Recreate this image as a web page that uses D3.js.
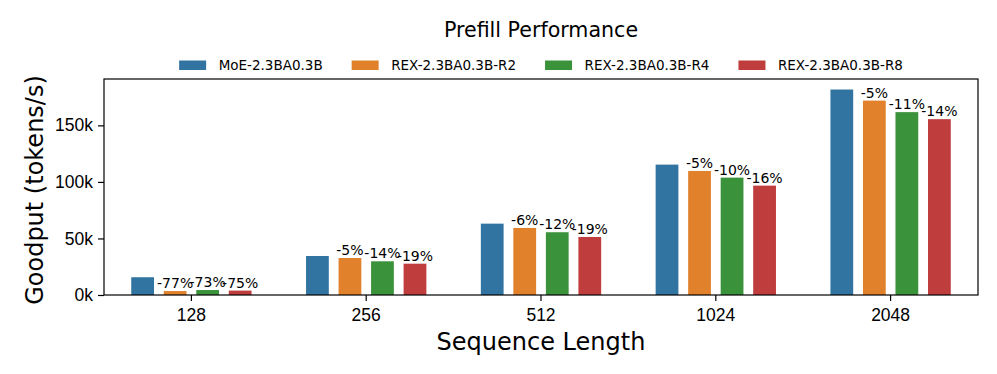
<!DOCTYPE html>
<meta charset="utf-8">
<head>
  <script src="https://d3js.org/d3.v7.min.js"></script>
  <style>
    body { margin: 0; background: #fff; }
    svg { display: block; font-family: "DejaVu Sans", sans-serif; }
  </style>
</head>
<body>
<div id="my_dataviz"></div>
<script>

// data (goodput in tokens/s)
var categories = ["128", "256", "512", "1024", "2048"];
var seriesNames = ["MoE-2.3BA0.3B", "REX-2.3BA0.3B-R2", "REX-2.3BA0.3B-R4", "REX-2.3BA0.3B-R8"];
var moeValues = [15700, 34500, 63100, 115300, 181700];
var r2Values = [3500, 32700, 59300, 109700, 171900];
var r4Values = [4400, 29800, 55500, 103800, 161700];
var r8Values = [3900, 27700, 51300, 96700, 155500];
var r2Labels = ["-77%", "-5%", "-6%", "-5%", "-5%"];
var r4Labels = ["-73%", "-14%", "-12%", "-10%", "-11%"];
var r8Labels = ["-75%", "-19%", "-19%", "-16%", "-14%"];
var yTicks = [0, 50000, 100000, 150000];
var colors = ["#3274a1", "#e1812c", "#3a923a", "#c03d3e"];

var allValues = [moeValues, r2Values, r4Values, r8Values];
var allLabels = [null, r2Labels, r4Labels, r8Labels];

var margin = { top: 79, right: 19, bottom: 79, left: 104 },
  W = 997, H = 374,
  width = W - margin.left - margin.right,
  height = H - margin.top - margin.bottom;

var svgRoot = d3.select("#my_dataviz")
  .append("svg")
  .attr("width", W)
  .attr("height", H);

var svg = svgRoot.append("g")
  .attr("transform", "translate(" + margin.left + "," + margin.top + ")");

// scales
var x0 = d3.scaleBand()
  .domain(categories)
  .range([0, width])
  .paddingInner(0.2)
  .paddingOuter(0.1);

var x1 = d3.scaleBand()
  .domain(seriesNames)
  .range([0, x0.bandwidth()])
  .padding(0.3);

var y = d3.scaleLinear()
  .domain([0, 191000])
  .range([height, 0]);

// build rows for the bars
var rows = [];
categories.forEach(function (c, i) {
  seriesNames.forEach(function (s, j) {
    rows.push({ cat: c, series: s, idx: j, value: allValues[j][i], label: allLabels[j] ? allLabels[j][i] : null });
  });
});

// bars
svg.selectAll("rect.bar")
  .data(rows)
  .enter()
  .append("rect")
  .attr("class", "bar")
  .attr("x", function (d) { return x0(d.cat) + x1(d.series); })
  .attr("y", function (d) { return y(d.value); })
  .attr("width", x1.bandwidth())
  .attr("height", function (d) { return height - y(d.value); })
  .attr("fill", function (d) { return colors[d.idx]; });

// percentage labels
svg.selectAll("text.pct")
  .data(rows.filter(function (d) { return d.label; }))
  .enter()
  .append("text")
  .attr("class", "pct")
  .attr("x", function (d) { return x0(d.cat) + x1(d.series) + x1.bandwidth() / 2; })
  .attr("y", function (d) { return y(d.value) - 3; })
  .attr("text-anchor", "middle")
  .style("font-size", "14px")
  .text(function (d) { return d.label; });

// axes
var xAxis = svg.append("g")
  .attr("transform", "translate(0," + height + ")")
  .call(d3.axisBottom(x0).tickSize(6).tickPadding(7.5).tickSizeOuter(0));
xAxis.selectAll("text").style("font-size", "17.5px").attr("fill", "#000");

var yAxis = svg.append("g")
  .call(d3.axisLeft(y).tickValues(yTicks).tickSize(6).tickPadding(5).tickSizeOuter(0)
    .tickFormat(function (d) { return (d / 1000) + "k"; }));
yAxis.selectAll("text").style("font-size", "17.5px").attr("fill", "#000");

svg.selectAll(".domain").remove();
svg.selectAll(".tick line").attr("stroke", "#000").attr("stroke-width", 1.2);

// frame
svg.append("rect")
  .attr("x", 0).attr("y", 0)
  .attr("width", width).attr("height", height)
  .attr("fill", "none")
  .attr("stroke", "#000")
  .attr("stroke-width", 1.2);

// titles
svgRoot.append("text")
  .attr("x", margin.left + width / 2)
  .attr("y", 36.5)
  .attr("text-anchor", "middle")
  .style("font-size", "20.6px")
  .text("Prefill Performance");

svgRoot.append("text")
  .attr("x", margin.left + width / 2)
  .attr("y", 350)
  .attr("text-anchor", "middle")
  .style("font-size", "24px")
  .text("Sequence Length");

svgRoot.append("text")
  .attr("transform", "translate(43," + (margin.top + height / 2 + 3) + ")rotate(-90)")
  .attr("text-anchor", "middle")
  .style("font-size", "24px")
  .text("Goodput (tokens/s)");

// legend
var legend = svgRoot.append("g");
var items = legend.selectAll("g")
  .data(seriesNames)
  .enter()
  .append("g");
items.append("rect")
  .attr("width", 27).attr("height", 9.5)
  .attr("y", 60.5)
  .attr("fill", function (d, i) { return colors[i]; });
items.append("text")
  .attr("x", 39.5)
  .attr("y", 70)
  .style("font-size", "13.5px")
  .text(function (d) { return d; });

var xpos = 0, gap = 29;
items.each(function () {
  var g = d3.select(this);
  g.attr("transform", "translate(" + xpos + ",0)");
  xpos += 39.5 + g.select("text").node().getComputedTextLength() + gap;
});
var legendWidth = xpos - gap;
legend.attr("transform", "translate(" + (margin.left + width / 2 - legendWidth / 2) + ",0)");

</script>
</body>
